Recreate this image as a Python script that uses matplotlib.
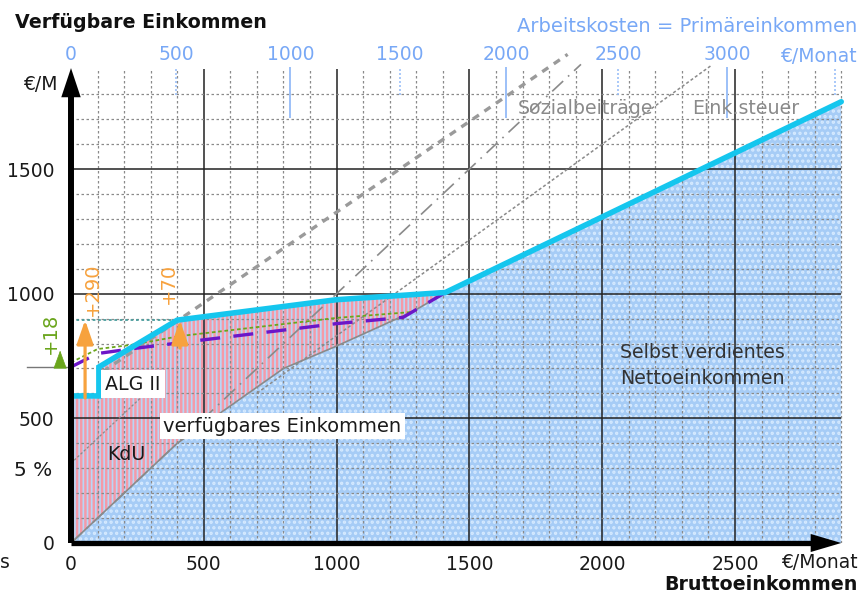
import numpy as np
import matplotlib
matplotlib.use("Agg")
import matplotlib.pyplot as plt

# ---------------- data ----------------
gross_ticks = [0, 500, 1000, 1500, 2000, 2500]
net_ticks = [0, 500, 1000, 1500]
labor_ticks = [0, 500, 1000, 1500, 2000, 2500, 3000]
labor_ref = [0, 500, 1000, 1500, 2000, 2500, 3000, 3500, 3800]
gross_ref = [0, 395, 826, 1237, 1638, 2060, 2470, 2877, 3120]
labor_tick_marks = [500, 1000, 1500, 2000, 2500, 3000, 3500]

net_x = [0, 400, 800, 1000, 1290, 1410]
net_y = [0, 400, 700, 790, 930, 1005]
disp_x = [0, 105, 105, 400, 1000, 1410, 2900]
disp_y = [590, 590, 706, 894, 976, 1005, 1770]
purple_x = [0, 100, 250, 500, 1000, 1250, 1290, 1410]
purple_y = [706, 760, 782, 815, 880, 905, 930, 1005]
green_x = [0, 100, 230, 410, 1000, 1290]
green_y = [724, 778, 795, 830, 903, 927]
labor_line_x = [120, 1870]
labor_line_y = [687, 1960]
gross_line_x = [0, 1920]
gross_line_y = [0, 1920]
soc_line_x = [700, 2410]
soc_line_y = [601, 1915]
kdu_line_x = [0, 300]
kdu_line_y = [320, 620]
ref_x = [0, 400]
ref_y = [894, 894]
alg_level = 706
arrow1_x, arrow1_y = 53, [582, 894]
arrow2_x, arrow2_y = 410, [782, 894]
arrow3_x, arrow3_y = -41, [704, 772]

# ---------------- figure ----------------
W, H = 862, 594
fig = plt.figure(figsize=(W / 100, H / 100), dpi=100)
sx, sy = 0.2656, 0.2493
x0p, y0p = 71, 543
ax = fig.add_axes([x0p / W, (H - y0p) / H, (W - x0p) / W, y0p / H])
ax.set_xlim(0, (W - x0p) / sx)
ax.set_ylim(0, y0p / sy)
for s in ax.spines.values():
    s.set_visible(False)

BLUE_TXT = "#78a8f6"
ORANGE = "#f7a23e"
GREEN = "#6aa51c"
CYAN = "#15c6ee"

# fills
matplotlib.rcParams["hatch.linewidth"] = 1.6
poly_net_x = list(net_x) + list(disp_x[-1:]) + [disp_x[-1], 0]
poly_net_y = list(net_y) + list(disp_y[-1:]) + [0, 0]
ax.fill(poly_net_x, poly_net_y, facecolor="#a6ccf6", edgecolor="none", zorder=1)
ax.fill(poly_net_x, poly_net_y, facecolor="none", edgecolor="#d6eaff", hatch="...", lw=0, zorder=1.1)

matplotlib.rcParams["hatch.linewidth"] = 1.75
cut = disp_x.index(1410)
pink_x = disp_x[:cut + 1] + net_x[::-1]
pink_y = disp_y[:cut + 1] + net_y[::-1]
ax.fill(pink_x, pink_y, facecolor="#b9d6f6", edgecolor="none", zorder=1)
ax.fill(pink_x, pink_y, facecolor="none", edgecolor="#f49aa8", hatch="||||", lw=0, zorder=1.1)

# grid
for v in range(100, 2901, 100):
    if v % 500 == 0:
        ax.vlines(v, 0, 1900, color="#222222", lw=1.1, zorder=2)
    else:
        ax.vlines(v, 0, 1900, color="#8a8a8a", lw=0.9, linestyles=(0, (2, 2)), zorder=2)
for h in range(100, 1801, 100):
    if h % 500 == 0:
        ax.hlines(h, 0, 2900, color="#222222", lw=1.1, zorder=2)
    else:
        ax.hlines(h, 0, 2900, color="#8a8a8a", lw=0.9, linestyles=(0, (2, 2)), zorder=2)

# gray reference lines
ax.plot(labor_line_x, labor_line_y, color="#9a9a9a", lw=2.4, ls=(0, (2.2, 2)), zorder=3)
ax.plot(gross_line_x, gross_line_y, color="#8a8a8a", lw=1.2, ls=(0, (9, 4, 1, 4)), zorder=3)
ax.plot(soc_line_x, soc_line_y, color="#8a8a8a", lw=1.1, ls=(0, (2, 1.5)), zorder=3)
ax.plot(kdu_line_x, kdu_line_y, color="#8a8a8a", lw=0.9, ls=(0, (2, 1.5)), zorder=3)
ax.plot(net_x, net_y, color="#8a8a8a", lw=1.2, zorder=3)

# other lines
ax.plot(ref_x, ref_y, color="#4a9d9d", lw=1.3, ls=(0, (1.5, 1.5)), zorder=4)
ax.plot(green_x, green_y, color=GREEN, lw=1.3, ls=(0, (2, 1.5)), zorder=4)
ax.plot(purple_x, purple_y, color="#6c16c8", lw=2.4, ls=(0, (6, 4)), zorder=4.5)
ax.plot(disp_x, disp_y, color=CYAN, lw=4.0, solid_capstyle="round", solid_joinstyle="miter", zorder=5)
ax.plot([-165, 0], [alg_level, alg_level], color="#777777", lw=1.0, clip_on=False, zorder=3)

# orange / green arrows
for xx, yy in [(arrow1_x, arrow1_y), (arrow2_x, arrow2_y)]:
    ax.annotate("", xy=(xx, yy[1]), xytext=(xx, yy[0]),
                arrowprops=dict(arrowstyle="-|>,head_length=0.72,head_width=0.25", lw=2.3,
                                color=ORANGE, shrinkA=0, shrinkB=0, mutation_scale=20),
                zorder=6, annotation_clip=False)
ax.annotate("", xy=(arrow3_x, arrow3_y[1]), xytext=(arrow3_x, arrow3_y[0]),
            arrowprops=dict(arrowstyle="-|>,head_length=0.6,head_width=0.22", lw=0.5,
                            color=GREEN, shrinkA=0, shrinkB=0, mutation_scale=20),
            zorder=6, annotation_clip=False)

# axis arrows
ax.plot([0, 0], [0, 1800], color="black", lw=4.3, solid_capstyle="butt", clip_on=False, zorder=7)
ax.annotate("", xy=(0, 1905), xytext=(0, 1780),
            arrowprops=dict(arrowstyle="-|>,head_length=21,head_width=7", lw=0,
                            fc="black", ec="black", shrinkA=0, shrinkB=0, mutation_scale=1),
            zorder=7, annotation_clip=False)
ax.plot([0, 2800], [0, 0], color="black", lw=3.8, solid_capstyle="butt", clip_on=False, zorder=7)
ax.annotate("", xy=(2900, 0), xytext=(2780, 0),
            arrowprops=dict(arrowstyle="-|>,head_length=22,head_width=6.5", lw=0,
                            fc="black", ec="black", shrinkA=0, shrinkB=0, mutation_scale=1),
            zorder=7, annotation_clip=False)

# ticks
ax.set_xticks(gross_ticks)
ax.set_xticklabels([str(t) for t in gross_ticks])
ax.set_yticks(net_ticks)
ax.set_yticklabels([str(t) for t in net_ticks])
ax.tick_params(axis="x", length=0, pad=9, labelsize=13.5, labelcolor="#1a1a1a")
ax.tick_params(axis="y", length=0, pad=12, labelsize=13.5, labelcolor="#1a1a1a")

# top axis (labour cost)
fwd = lambda g: np.interp(g, gross_ref, labor_ref)
inv = lambda l: np.interp(l, labor_ref, gross_ref)
top = ax.secondary_xaxis((543 - 67) / 543, functions=(fwd, inv))
top.set_xticks(labor_ticks)
top.set_xticklabels([str(t) for t in labor_ticks])
top.tick_params(length=0, pad=2.5, labelsize=13.5, labelcolor=BLUE_TXT)
for s in top.spines.values():
    s.set_visible(False)
for lt in labor_tick_marks:
    g = float(inv(lt))
    if lt % 1000 == 0:
        ax.vlines(g, 1705, 1909, color="#9cc0f8", lw=1.4, zorder=3, clip_on=False)
    else:
        ax.vlines(g, 1797, 1909, color="#9cc0f8", lw=1.2, linestyles=(0, (1.2, 1.2)), zorder=3, clip_on=False)

# ---------------- texts ----------------
def ft(xp, yp, s, **kw):
    fig.text(xp / W, 1 - yp / H, s, **kw)

ft(15, 22, "Verfügbare Einkommen", ha="left", va="center", fontsize=13.7, weight="bold", color="#111111")
ft(58, 85, "€/M", ha="right", va="center", fontsize=13.5, color="#1a1a1a")
ft(857, 27, "Arbeitskosten = Primäreinkommen", ha="right", va="center", fontsize=14, color=BLUE_TXT)
ft(857, 57, "€/Monat", ha="right", va="center", fontsize=13.5, color=BLUE_TXT)
ft(858, 563, "€/Monat", ha="right", va="center", fontsize=13.5, color="#1a1a1a")
ft(858, 585, "Bruttoeinkommen", ha="right", va="center", fontsize=13.7, weight="bold", color="#111111")
ft(52, 471, "5 %", ha="right", va="center", fontsize=14.5, color="#1a1a1a")
ft(0, 562, "s", ha="left", va="center", fontsize=13.5, color="#1a1a1a")
ft(518, 108, "Sozialbeiträge", ha="left", va="center", fontsize=13.7, color="#8a8a8a", zorder=8)
ft(692, 108, "Eink.steuer", ha="left", va="center", fontsize=13.7, color="#8a8a8a", zorder=8)
ft(105, 384, "ALG II", ha="left", va="center", fontsize=13.7, color="#1a1a1a", zorder=4.8,
   bbox=dict(facecolor="white", edgecolor="none", pad=3.0))
ft(107, 455, "KdU", ha="left", va="center", fontsize=13.7, color="#1a1a1a", zorder=8)
ft(163, 426, "verfügbares Einkommen", ha="left", va="center", fontsize=14, color="#1a1a1a", zorder=8,
   bbox=dict(facecolor="white", edgecolor="none", pad=2.5))
ft(620, 352, "Selbst verdientes", ha="left", va="center", fontsize=13.7, color="#333333", zorder=8)
ft(620, 378, "Nettoeinkommen", ha="left", va="center", fontsize=13.7, color="#333333", zorder=8)
ft(92, 289, "+290", ha="center", va="center", rotation=90, fontsize=14, color=ORANGE, zorder=8)
ft(168, 283, "+70", ha="center", va="center", rotation=90, fontsize=14, color=ORANGE, zorder=8)
ft(50, 333, "+18", ha="center", va="center", rotation=90, fontsize=14, color=GREEN, zorder=8)

fig.savefig("out.png", dpi=100)
